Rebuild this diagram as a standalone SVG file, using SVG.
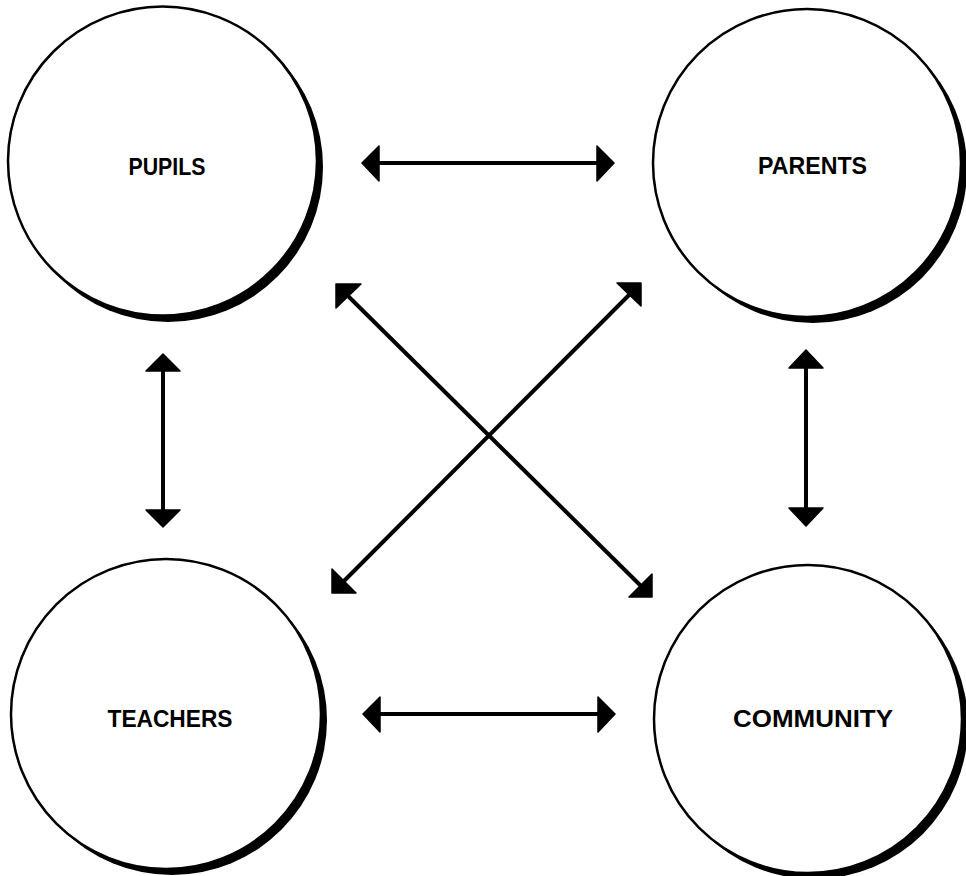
<svg xmlns="http://www.w3.org/2000/svg" width="966" height="876" viewBox="0 0 966 876">
<style>
.shadow{fill:#000}
.disc{fill:#fff;stroke:#000;stroke-width:2.5}
.lbl{font-family:"Liberation Sans",Arial,sans-serif;font-weight:bold;font-size:24px;fill:#000;text-anchor:middle}
.ln{stroke:#000;stroke-width:4;fill:none}
.hd{fill:#000;stroke:#000;stroke-width:1.5;stroke-linejoin:round}
</style>
<rect width="966" height="876" fill="#fff"/>
<g id="pupils">
<circle class="shadow" cx="168" cy="167" r="155"/>
<circle class="disc" cx="162.5" cy="161" r="154.5"/>
<text class="lbl" x="167" y="175" textLength="77" lengthAdjust="spacingAndGlyphs">PUPILS</text>
</g>
<g id="parents">
<circle class="shadow" cx="813" cy="169" r="154"/>
<circle class="disc" cx="807" cy="163" r="154"/>
<text class="lbl" x="812.5" y="174" textLength="109" lengthAdjust="spacingAndGlyphs">PARENTS</text>
</g>
<g id="teachers">
<circle class="shadow" cx="172" cy="720" r="155"/>
<circle class="disc" cx="166" cy="714" r="155"/>
<text class="lbl" x="170" y="727" textLength="125" lengthAdjust="spacingAndGlyphs">TEACHERS</text>
</g>
<g id="community">
<circle class="shadow" cx="814" cy="725" r="154"/>
<circle class="disc" cx="808" cy="719" r="154"/>
<text class="lbl" x="813" y="727" textLength="160" lengthAdjust="spacingAndGlyphs">COMMUNITY</text>
</g>
<g id="connectors">
<line class="ln" x1="378" y1="163" x2="598" y2="163"/>
<polygon class="hd" points="362,163 379,146 379,181"/>
<polygon class="hd" points="614,163 597,146 597,181"/>
<line class="ln" x1="379" y1="714" x2="599" y2="714"/>
<polygon class="hd" points="363,714 380,697 380,732"/>
<polygon class="hd" points="615,714 598,697 598,732"/>
<line class="ln" x1="163" y1="370" x2="163" y2="511"/>
<polygon class="hd" points="163,354 146,371 180,371"/>
<polygon class="hd" points="163,527 146,510 180,510"/>
<line class="ln" x1="806" y1="367" x2="806" y2="509"/>
<polygon class="hd" points="806,350 789,368 823,368"/>
<polygon class="hd" points="806,526 789,508 823,508"/>
<line class="ln" x1="346" y1="294" x2="641" y2="586"/>
<polygon class="hd" points="336,284 361,284 336,308"/>
<polygon class="hd" points="652,597 652,574 629,597"/>
<line class="ln" x1="631" y1="293" x2="343" y2="582"/>
<polygon class="hd" points="641,283 617,283 641,306"/>
<polygon class="hd" points="332,593 332,569 356,593"/>
</g>
</svg>
